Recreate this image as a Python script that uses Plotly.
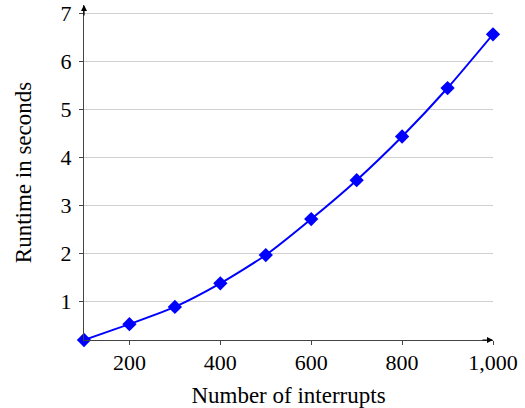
import plotly.graph_objects as go

interrupts = [100, 200, 300, 400, 500, 600, 700, 800, 900, 1000]
runtime = [0.19, 0.52, 0.88, 1.37, 1.96, 2.71, 3.52, 4.43, 5.44, 6.56]
x_ticks = [200, 400, 600, 800, 1000]
x_ticklabels = ["200", "400", "600", "800", "1,000"]
y_ticks = [1, 2, 3, 4, 5, 6, 7]

font_family = "Liberation Serif, DejaVu Serif, serif"

fig = go.Figure()
fig.add_trace(go.Scatter(
    x=interrupts, y=runtime, mode="lines+markers",
    line=dict(color="#0000ff", width=2, shape="spline", smoothing=0.6),
    marker=dict(symbol="diamond", size=11, color="#0000ff"),
    cliponaxis=False, showlegend=False,
))

fig.update_layout(
    width=525, height=408,
    margin=dict(l=84, r=32, t=5, b=68),
    plot_bgcolor="white", paper_bgcolor="white",
    font=dict(family=font_family, size=22, color="black"),
    xaxis=dict(
        range=[100, 1000], tickvals=x_ticks, ticktext=x_ticklabels,
        showgrid=False, zeroline=False, showline=True, linecolor="#444", linewidth=1.2,
        ticks="outside", ticklen=4, tickcolor="#444", automargin=False,
        ticklabelstandoff=-2,
        title=dict(text="Number of interrupts", standoff=14, font=dict(size=23)),
        tickfont=dict(size=22),
    ),
    yaxis=dict(
        range=[0.19, 7.17], tickvals=y_ticks,
        showgrid=True, gridcolor="#d0d0d0", gridwidth=1.2,
        zeroline=False, showline=True, linecolor="#444", linewidth=1.2,
        ticks="outside", ticklen=4, tickcolor="#444", automargin=False,
        ticklabelstandoff=3,
        title=dict(text="Runtime in seconds", standoff=22, font=dict(size=23)),
        tickfont=dict(size=22),
    ),
    annotations=[
        dict(xref="paper", yref="paper", x=1, y=0, ax=-12, ay=0, axref="pixel", ayref="pixel",
             showarrow=True, arrowhead=2, arrowsize=1, arrowwidth=1.2, arrowcolor="black", text=""),
        dict(xref="paper", yref="paper", x=0, y=1, ax=0, ay=12,
             showarrow=True, arrowhead=2, arrowsize=1, arrowwidth=1.2, arrowcolor="black", text=""),
    ],
)

fig.write_html("out.html", config={"displayModeBar": False},
               post_script="document.body.style.margin='0';")
